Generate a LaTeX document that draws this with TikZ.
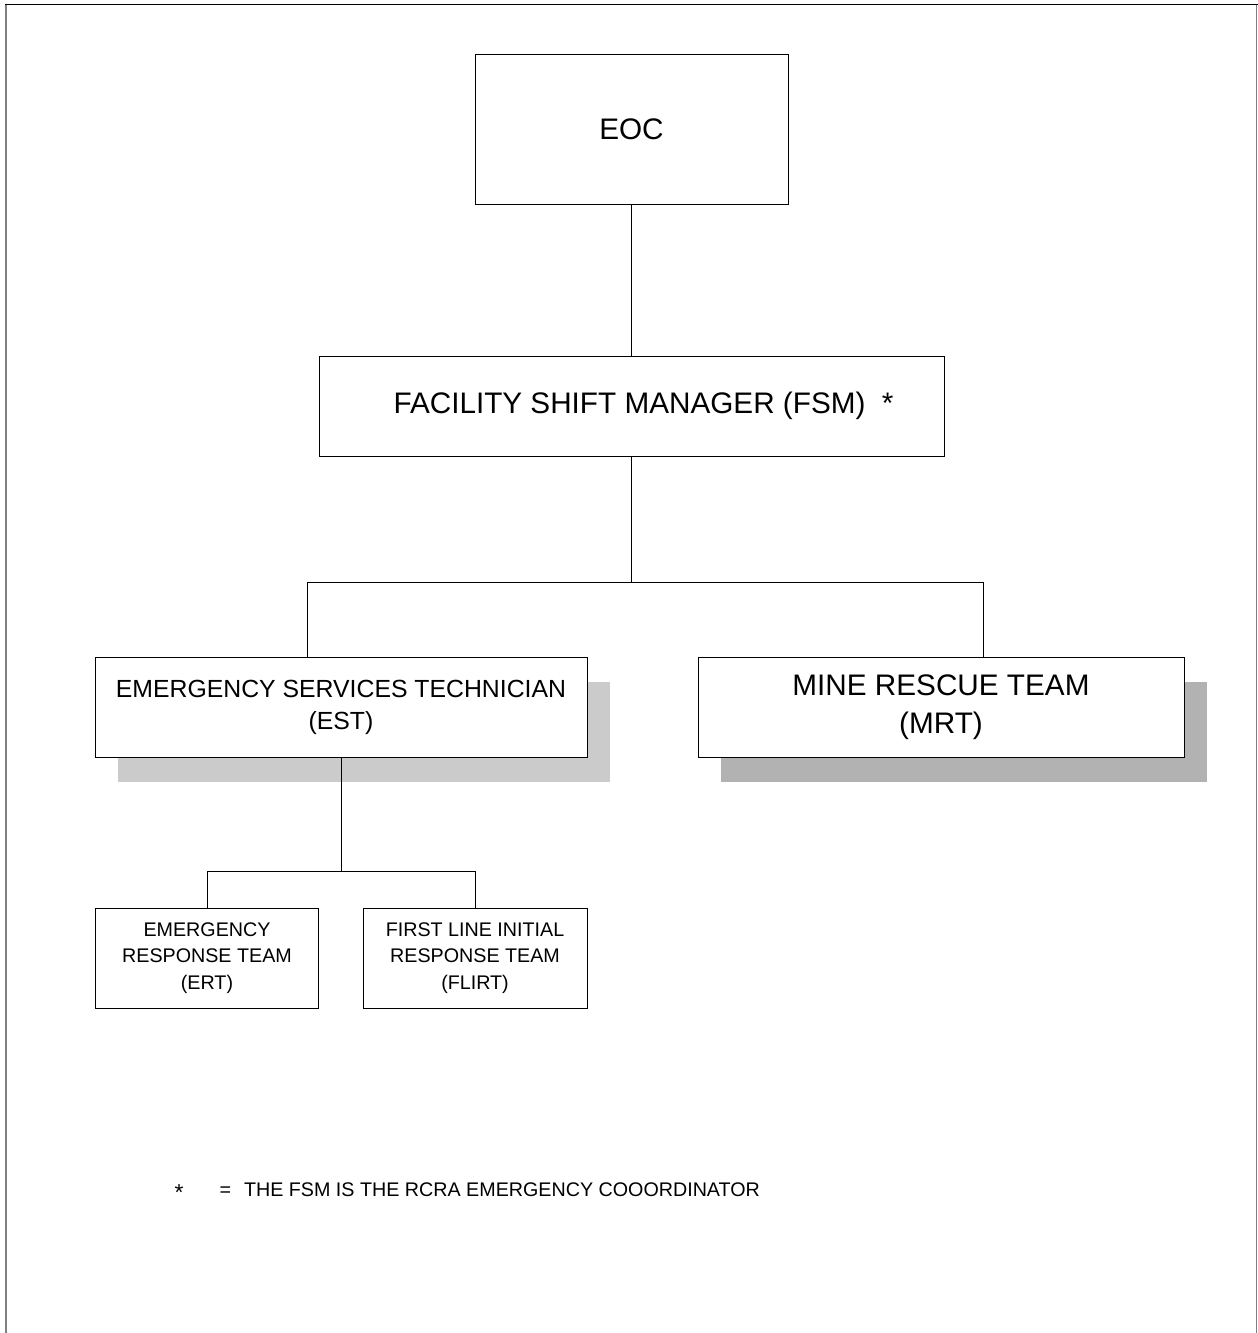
\documentclass[tikz,border=0pt]{standalone}
\usepackage{fontspec}
\setmainfont{Liberation Sans}
\begin{document}
\begin{tikzpicture}[x=1pt,y=-1pt,
  box/.style={draw, fill=white, line width=1pt, inner sep=0pt, align=center},
  big/.style={font=\fontsize{29.7}{38}\selectfont},
  mid/.style={font=\fontsize{24.8}{32}\selectfont},
  small/.style={font=\fontsize{19.7}{26.5}\selectfont},
  link/.style={line width=0.9pt},
  shade/.style={draw=none}]
\useasboundingbox (0,0) rectangle (1258,1333);

% page frame
\draw[line width=1.5pt] (5,4.5) -- (1257.5,4.5);
\draw[line width=1.5pt, gray] (6,4.5) -- (6,1333);
\draw[line width=1.5pt, gray] (1256.5,4.5) -- (1256.5,1333);

% drop shadows of the second-level boxes
\fill[shade, fill={rgb,255:red,203;green,203;blue,203}] (118,682) rectangle (610,782);
\fill[shade, fill={rgb,255:red,178;green,178;blue,178}] (721,682) rectangle (1207,782);

% boxes
\node[box, big, minimum width=313pt, minimum height=150pt] (eoc) at (631.5,129.5) {EOC};
\node[box, big, minimum width=625pt, minimum height=100pt] (fsm) at (631.5,406)
  {\hspace*{24pt}FACILITY SHIFT MANAGER (FSM)~~*};
\node[box, mid, minimum width=492pt, minimum height=100pt] (est) at (341,707)
  {EMERGENCY SERVICES TECHNICIAN\\(EST)};
\node[box, big, minimum width=486pt, minimum height=100pt] (mrt) at (941,707)
  {MINE RESCUE TEAM\\(MRT)};
\node[box, small, minimum width=223pt, minimum height=100pt] (ert) at (207,958)
  {EMERGENCY\\RESPONSE TEAM\\(ERT)};
\node[box, small, minimum width=224pt, minimum height=100pt] (flirt) at (475,958)
  {FIRST LINE INITIAL\\RESPONSE TEAM\\(FLIRT)};

% branch points
\coordinate (busL) at (307,582);
\coordinate (busR) at (983,582);
\coordinate (bus2) at (207,871);

% connectors
\draw[link] (eoc.south) -- (fsm.north);
\draw[link] (fsm.south) -- (fsm.south |- busL);
\draw[link] (busL) -- (busR);
\draw[link] (busL) -- (busL |- est.north);
\draw[link] (busR) -- (busR |- mrt.north);
\draw[link] (est.south) -- (est.south |- bus2);
\draw[link] (bus2) -- (flirt.north |- bus2);
\draw[link] (bus2) -- (ert.north);
\draw[link] (flirt.north |- bus2) -- (flirt.north);

% footnote
\node[font=\fontsize{23}{28}\selectfont] (star) at (179,1193) {*};
\node[small, anchor=west] (note) at (216,1190)
  {=\hspace{13pt}THE FSM IS THE RCRA EMERGENCY COOORDINATOR};
\end{tikzpicture}
\end{document}
